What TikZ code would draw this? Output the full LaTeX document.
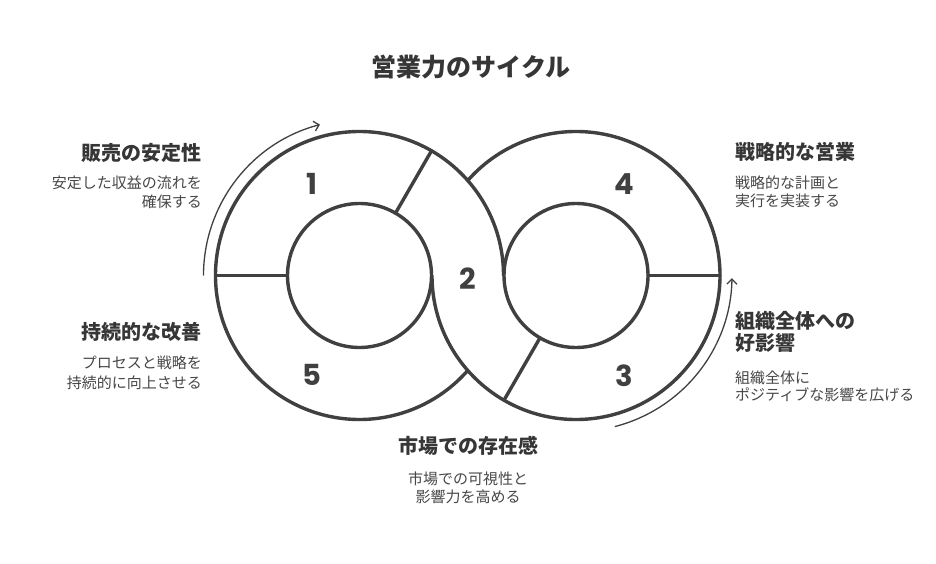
\documentclass[tikz,border=0pt]{standalone}
\usepackage{fontspec}
\setmainfont{Noto Sans CJK JP}
\newfontfamily\numfont{Poppins}
\usetikzlibrary{arrows.meta,calc}
\definecolor{ink}{HTML}{404040}
\definecolor{headc}{HTML}{363636}
\definecolor{bodyc}{HTML}{474747}
\begin{document}
\begin{tikzpicture}[x=1pt,y=-1pt,
  ring/.style={draw=ink, line width=3.4pt, line cap=round},
  cyc/.style={draw=ink, line width=1.3pt, -{Straight Barb[length=5pt,width=10pt]}},
  ttl/.style={font=\fontsize{25}{28}\selectfont\bfseries, text=headc, inner sep=0},
  head/.style={font=\fontsize{20}{24}\selectfont\bfseries, text=headc, inner sep=0},
  body/.style={font=\fontsize{15}{18}\selectfont, text=bodyc, inner sep=0},
  num/.style={font=\numfont\fontsize{29}{30}\selectfont\bfseries, text=ink, inner sep=0}]
\useasboundingbox (0,0) rectangle (936,564);
\fill[white] (0,0) rectangle (936,564);
\coordinate (L) at (359.5,275.5);
\coordinate (R) at (576,275.5);
% rings
\draw[ring] ($(L)+(0:144)$) arc[start angle=0, end angle=-318.74, radius=144];
\draw[ring] ($(R)+(180:144)$) arc[start angle=180, end angle=-138.74, radius=144];
\draw[ring] (L) circle[radius=72];
\draw[ring] (R) circle[radius=72];
% dividers
\draw[ring] ($(L)+(180:72)$) -- ($(L)+(180:144)$);
\draw[ring] ($(L)+(-60:72)$) -- ($(L)+(-60:144)$);
\draw[ring] ($(R)+(0:72)$) -- ($(R)+(0:144)$);
\draw[ring] ($(R)+(120:72)$) -- ($(R)+(120:144)$);
% cycle arrows
\draw[cyc] ($(L)+(180:156)$) arc[start angle=180, end angle=255.3, radius=156];
\draw[cyc] ($(R)+(75.6:156)$) arc[start angle=75.6, end angle=1, radius=156];
% numbers
\node[num, anchor=base] (n1) at (312,194) {1};
\node[num, anchor=base] (n2) at (467.5,289) {2};
\node[num, anchor=base] (n3) at (624,386.5) {3};
\node[num, anchor=base] (n4) at (624,194.5) {4};
\node[num, anchor=base] (n5) at (311.5,385.5) {5};
% title
\node[ttl, anchor=base] (title) at (471,76.5) {営業力のサイクル};
% left
\node[head, anchor=base east] (h1) at (202,160.6) {販売の安定性};
\node[body, anchor=base east] (b1a) at (202,188.7) {安定した収益の流れを};
\node[body, anchor=base east] (b1b) at (202,207.7) {確保する};
\node[head, anchor=base east] (h5) at (202,339.6) {持続的な改善};
\node[body, anchor=base east] (b5a) at (202,368.7) {プロセスと戦略を};
\node[body, anchor=base east] (b5b) at (202,388.7) {持続的に向上させる};
% right
\node[head, anchor=base west] (h4) at (735,159.6) {戦略的な営業};
\node[body, anchor=base west] (b4a) at (735,189) {戦略的な計画と};
\node[body, anchor=base west] (b4b) at (735,206.7) {実行を実装する};
\node[head, anchor=base west] (h3a) at (735,328.6) {組織全体への};
\node[head, anchor=base west] (h3b) at (735,350.6) {好影響};
\node[body, anchor=base west] (b3a) at (735,383.7) {組織全体に};
\node[body, anchor=base west] (b3b) at (735,400.2) {ポジティブな影響を広げる};
% bottom
\node[head, anchor=base] (h2) at (468,453.6) {市場での存在感};
\node[body, anchor=base] (b2a) at (468,484.7) {市場での可視性と};
\node[body, anchor=base] (b2b) at (468,502.7) {影響力を高める};
\end{tikzpicture}
\end{document}
